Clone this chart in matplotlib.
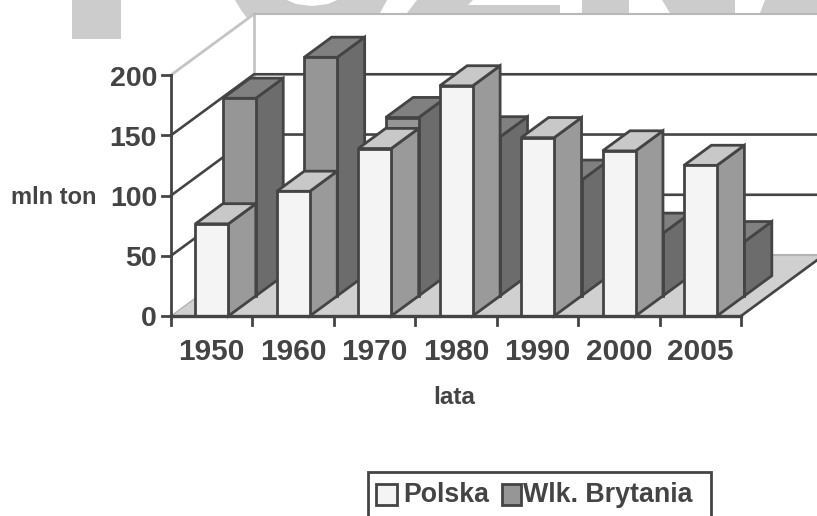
import matplotlib
matplotlib.use('Agg')
import matplotlib.pyplot as plt
from matplotlib.patches import Polygon, Rectangle

plt.rcParams['font.family'] = ['Liberation Sans', 'DejaVu Sans']

# data (mln ton)
years = ['1950', '1960', '1970', '1980', '1990', '2000', '2005']
polska = [76.5, 103.5, 139, 191, 148, 137, 125]
wlk_brytania = [164, 198, 148, 132, 96, 52, 45]
y_ticks = [0, 50, 100, 150, 200]

DARK = '#444444'
LIGHT = '#c4c4c4'
WATER = '#cccccc'

# fake 3D geometry, in axis units
depth_x, depth_y = 1.02, 50.6   # how far the back wall is shifted
bar_left, bar_w = 0.30, 0.405
bar_depth = 0.33

# one axes over the whole figure: 1 category = 81.43 px, 1 mln ton = 1.205 px
sx, sy = 81.43, 1.205
fig = plt.figure(figsize=(8.17, 5.16), dpi=100)
ax = fig.add_axes([0, 0, 1, 1])
ax.set_xlim(-171 / sx, (817 - 171) / sx)
ax.set_ylim(-(516 - 316) / sy, 316 / sy)
ax.axis('off')


def px(x, y):
    # picture pixel -> axis units, for the decoration that is not data
    return (x - 171) / sx, (316 - y) / sy


# pieces of the big watermark lettering above the plot
watermark = [
    [(72, 0), (121, 0), (121, 39), (72, 39)],
    [(235, 0), (287, 0), (296, 4), (312, 6), (328, 4), (337, 0), (387, 0), (380, 13), (254, 13), (247, 18), (241, 10)],
    [(417, 0), (473, 0), (468, 5), (560, 5), (560, 13), (407, 13)],
    [(582, 0), (629, 0), (629, 13), (582, 13)],
    [(662, 0), (735, 0), (735, 13), (670, 13)],
    [(765, 0), (817, 0), (817, 13), (760, 13)],
]
for shape in watermark:
    ax.add_patch(Polygon([px(*p) for p in shape], fc=WATER, ec='none', zorder=1))

n = len(years)
top = y_ticks[-1]

# floor
ax.add_patch(Polygon([(0, 0), (n, 0), (n + depth_x, depth_y), (depth_x, depth_y)],
                     fc='#d0d0d0', ec='none', zorder=2))
ax.plot([depth_x, n + depth_x], [depth_y, depth_y], color='#b4b4b4', lw=1.5, zorder=2)
ax.plot([0, depth_x], [0, depth_y], color='#b4b4b4', lw=1, zorder=2)

# walls
ax.plot([0, depth_x], [top, top + depth_y], color=LIGHT, lw=2, zorder=2)
ax.plot([depth_x, depth_x], [depth_y, top + depth_y], color=LIGHT, lw=2, zorder=2)
ax.plot([depth_x, n + depth_x], [top + depth_y, top + depth_y], color='#b8b8b8', lw=1.5, zorder=2)

# gridlines go up the side wall and along the back wall
for t in y_ticks[1:-1]:
    ax.plot([0, depth_x, n + depth_x], [t, t + depth_y, t + depth_y], color=DARK, lw=1.9, zorder=3)


def draw_bar(i, value, start, front, top_c, side):
    x0 = i + bar_left + start * depth_x
    x1 = x0 + bar_w
    y0 = start * depth_y
    y1 = y0 + value
    dx, dy = bar_depth * depth_x, bar_depth * depth_y
    ax.add_patch(Polygon([(x1, y0), (x1 + dx, y0 + dy), (x1 + dx, y1 + dy), (x1, y1)],
                         fc=side, ec=DARK, lw=2, joinstyle='miter', zorder=4))
    ax.add_patch(Polygon([(x0, y1), (x1, y1), (x1 + dx, y1 + dy), (x0 + dx, y1 + dy)],
                         fc=top_c, ec=DARK, lw=2, joinstyle='miter', zorder=4))
    ax.add_patch(Polygon([(x0, y0), (x1, y0), (x1, y1), (x0, y1)],
                         fc=front, ec=DARK, lw=2, joinstyle='miter', zorder=4))


# back row first, then the front row
for i, v in enumerate(wlk_brytania):
    draw_bar(i, v, 0.33, '#969696', '#808080', '#6c6c6c')
for i, v in enumerate(polska):
    draw_bar(i, v, 0.0, '#f4f4f4', '#c8c8c8', '#9a9a9a')

# axes lines and ticks
ax.plot([0, 0], [0, top], color=DARK, lw=2, zorder=5)
ax.plot([0, n], [0, 0], color=DARK, lw=2.4, zorder=5)
ax.plot([n, n + depth_x], [0, depth_y], color=DARK, lw=1.9, zorder=3)
for t in y_ticks:
    ax.plot([-9 / sx, 0], [t, t], color=DARK, lw=2, zorder=5)
    ax.text(-14 / sx, t - 10.5 / sy, str(t), ha='right', va='baseline', fontsize=20.5,
            fontweight='bold', color=DARK)
for i in range(n + 1):
    ax.plot([i, i], [0, -9 / sy], color=DARK, lw=2, zorder=5)
for i, y in enumerate(years):
    ax.text(i + 0.5, -44 / sy, y, ha='center', va='baseline', fontsize=21.5,
            fontweight='bold', color=DARK)

# axis titles
ax.text(*px(53.5, 204), 'mln ton', ha='center', va='baseline', fontsize=17, fontweight='bold', color=DARK)
ax.text(*px(454, 404), 'lata', ha='center', va='baseline', fontsize=17.5, fontweight='bold', color=DARK)

# legend box runs off the bottom of the picture
lx, ly = px(368, 540)
ax.add_patch(Rectangle((lx, ly), 343 / sx, 68 / sy, fc='white', ec=DARK, lw=2, zorder=6))
ax.add_patch(Rectangle(px(376, 505), 21 / sx, 21 / sy, fc='#f4f4f4', ec=DARK, lw=2, zorder=7))
ax.add_patch(Rectangle(px(502, 505), 19 / sx, 21 / sy, fc='#969696', ec=DARK, lw=2, zorder=7))
ax.text(*px(403, 502), 'Polska', ha='left', va='baseline', fontsize=19.3, fontweight='bold', color=DARK, zorder=7)
ax.text(*px(523, 502), 'Wlk. Brytania', ha='left', va='baseline', fontsize=19.3, fontweight='bold', color=DARK, zorder=7)

plt.savefig('out.png', dpi=100)
